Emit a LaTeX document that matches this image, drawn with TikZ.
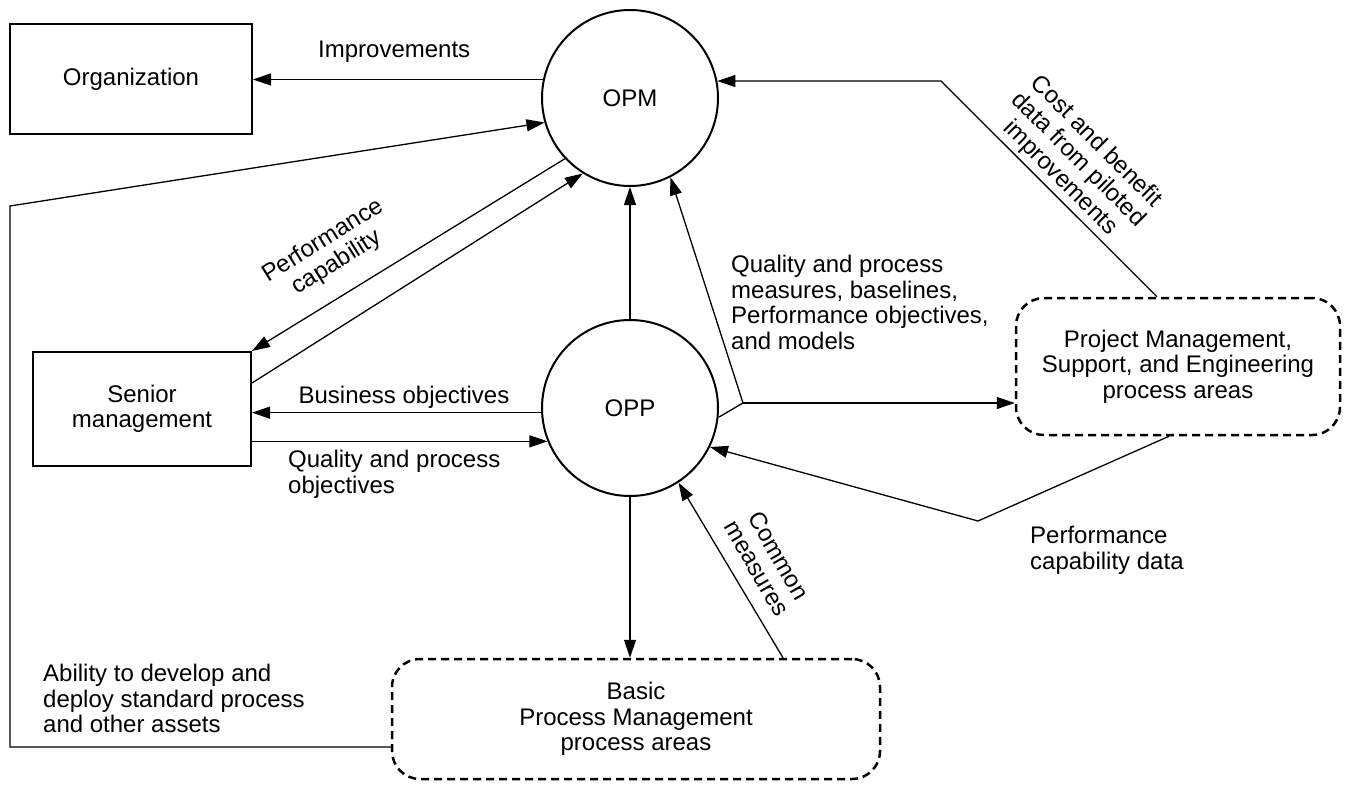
\documentclass[tikz,border=0pt]{standalone}
\usepackage{fontspec}
\setmainfont{Liberation Sans}
\usetikzlibrary{arrows.meta}

\begin{document}
\begin{tikzpicture}[x=1pt, y=-1pt,
	font=\fontsize{24}{25.5}\selectfont,
	proc/.style={draw, circle, line width=2pt, minimum size=176pt, inner sep=0pt},
	ent/.style={draw, rectangle, line width=2pt, inner sep=0pt, align=center},
	area/.style={draw, rectangle, rounded corners=28pt, dash pattern=on 8pt off 5pt, line width=2.5pt, inner sep=0pt, align=center},
	flow/.style={line width=1.3pt, -{Triangle[length=18pt, width=12pt]}},
	link/.style={line width=1.3pt},
	lbl/.style={inner sep=0pt, align=left}]
	\useasboundingbox (0,0) rectangle (1349,787);

	\node[proc] (OPM) at (630,98) {OPM};
	\node[proc] (OPP) at (630,408) {OPP};
	\node[ent, minimum width=242pt, minimum height=110pt] (Org) at (131,79) {Organization};
	\node[ent, minimum width=218pt, minimum height=114pt] (Senior) at (142,409) {Senior\\management};
	\node[area, minimum width=324pt, minimum height=137pt] (PM) at (1178,366.5) {Project Management,\\Support, and Engineering\\process areas};
	\node[area, minimum width=488pt, minimum height=120pt] (Basic) at (636,719) {Basic\\Process Management\\process areas};

	\coordinate (J) at (743,403);
	\coordinate (CB) at (941,81);
	\coordinate (PD) at (978,521);
	\coordinate (AB) at (10,206);
	\coordinate (AL) at ([yshift=-28pt]Basic.west);

	\draw[flow] (OPM.168) -- (OPM.168 -| Org.east);
	\draw[flow] (OPM.223) -- (Senior.north east);
	\draw[flow] ([yshift=26pt]Senior.east) -- (OPM.238);
	\draw[flow] (OPP.north) -- (OPM.south);
	\draw[flow] (OPP.183) -- (OPP.183 -| Senior.east);
	\draw[flow] (Senior.east |- OPP.202) -- (OPP.202);
	\draw[link] (OPP.-6) -- (J);
	\draw[flow] (J) -- (OPM.-63);
	\draw[flow] (J) -- (J -| PM.west);
	\draw[flow] ([xshift=-21pt]PM.north) -- (CB) -- (OPM.11);
	\draw[flow] ([xshift=-9pt]PM.south) -- (PD) -- (OPP.-26);
	\draw[flow] (OPP.south) -- (OPP.south |- Basic.north);
	\draw[flow] ([xshift=147pt]Basic.north) -- (OPP.-57);
	\draw[flow] (AL) -- (AB |- AL) -- (AB) -- (OPM.196);

	\node[lbl, anchor=base west] (LImp) at (318,57) {Improvements};
	\node[align=center, rotate=32, inner sep=0pt] (LCap) at (330,252) {Performance\\capability};
	\node[lbl, anchor=base] (LBus) at (404,403) {Business objectives};
	\node[lbl, anchor=north west] (LQual) at (288,450) {Quality and process\\objectives};
	\node[lbl, anchor=north west] (LMeas) at (731,255) {Quality and process\\measures, baselines,\\Performance objectives,\\and models};
	\node[align=center, rotate=-45, inner sep=0pt] (LCost) at (1078,160) {Cost and benefit\\data from piloted\\improvements};
	\node[align=center, rotate=-60, inner sep=0pt] (LCom) at (768,562) {Common\\measures};
	\node[lbl, anchor=north west] (LData) at (1030,526) {Performance\\capability data};
	\node[lbl, anchor=north west] (LAbl) at (43,664) {Ability to develop and\\deploy standard process\\and other assets};
\end{tikzpicture}
\end{document}
